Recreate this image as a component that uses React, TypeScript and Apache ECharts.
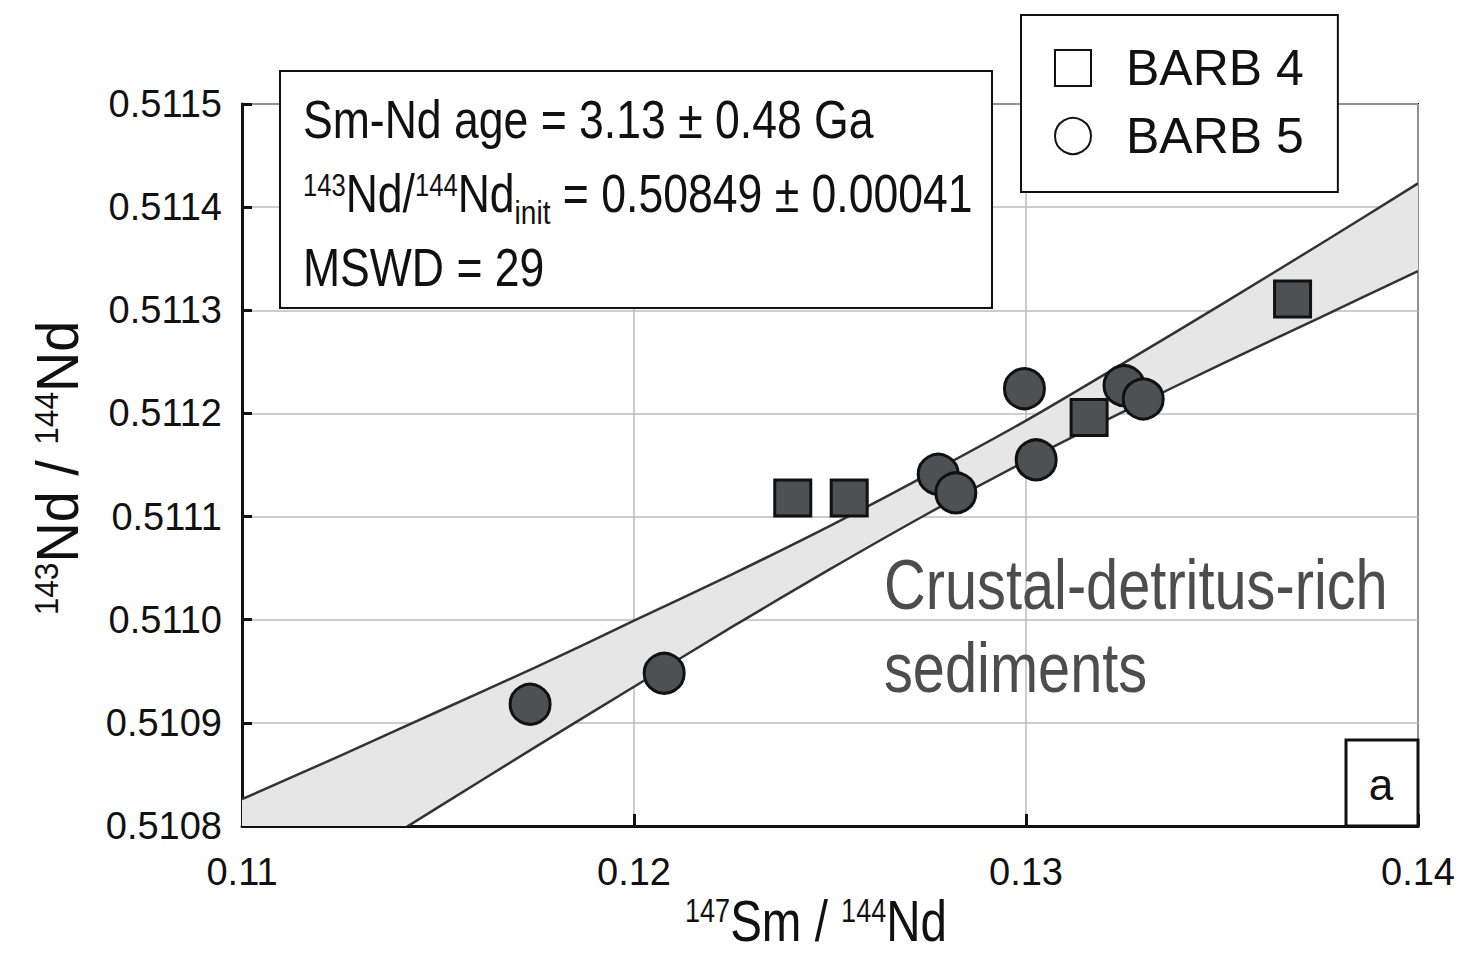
import React, { useEffect, useRef } from "react";
import * as echarts from "echarts";

// ---- data ----
const barb4X = [0.12405, 0.12549, 0.13161, 0.1368];
const barb4Y = [0.511118, 0.511118, 0.511196, 0.511311];
const barb5X = [0.11735, 0.12077, 0.12776, 0.12821, 0.12996, 0.13026, 0.1325, 0.13299];
const barb5Y = [0.510918, 0.510948, 0.511141, 0.511123, 0.511224, 0.511155, 0.511227, 0.511214];

// isochron error envelope (upper / lower bounds)
const envX = [0.11, 0.1125, 0.115, 0.1175, 0.12, 0.1225, 0.125, 0.1275, 0.13, 0.1325, 0.135, 0.1375, 0.14];
const envUpper = [0.510826, 0.510868, 0.510911, 0.510954, 0.510999, 0.511044, 0.511091, 0.511141, 0.511193, 0.511249, 0.511306, 0.511364, 0.511423];
const envLower = [0.5107, 0.510759, 0.510818, 0.510877, 0.510935, 0.510993, 0.511049, 0.511103, 0.511154, 0.511202, 0.511248, 0.511293, 0.511338];

const xMin = 0.11, xMax = 0.14, xStep = 0.01;
const yMin = 0.5108, yMax = 0.5115, yStep = 0.0001;

const seriesNames = ["BARB 4", "BARB 5"];
const xAxisTitle = "{sup|147}Sm / {sup|144}Nd";
const yAxisTitle = "{sup|143}Nd / {sup|144}Nd";
const infoLines = [
  "Sm-Nd age = 3.13 ± 0.48 Ga",
  "{sup|143}Nd/{sup|144}Nd{sub|init} = 0.50849 ± 0.00041",
  "MSWD = 29",
];
const regionLines = ["Crustal-detritus-rich", "sediments"];
const panelLabel = "a";

const FONT = "'Liberation Sans', Arial, sans-serif";
const INK = "#111111";
const MARK = "#4f5052";
const SQUEEZE = 0.825;

export default function App() {
  const ref = useRef<HTMLDivElement>(null);
  useEffect(() => {
    if (!ref.current) return;
    const chart = echarts.init(ref.current, null, { renderer: "svg" });
    const titleRich = {
      sup: { fontSize: 33, fontFamily: FONT, fill: INK, padding: [0, 0, 20, 0], lineHeight: 46 },
    };
    const option: any = {
      animation: false,
      backgroundColor: "#ffffff",
      grid: {
        left: 242, right: 43, top: 104, bottom: 129,
        outerBoundsMode: "none", containLabel: false,
        show: true, borderColor: INK, borderWidth: 2, backgroundColor: "transparent",
      },
      legend: {
        orient: "vertical", left: 1021, top: 15,
        backgroundColor: "#ffffff", borderColor: INK, borderWidth: 2,
        padding: [22, 34, 25, 33], itemGap: 6, itemWidth: 36, itemHeight: 36,
        textStyle: { fontSize: 50, fontFamily: FONT, color: INK, lineHeight: 62, padding: [0, 0, 0, 30] },
        data: [
          { name: seriesNames[0], icon: "rect", itemStyle: { color: "#ffffff", borderColor: INK, borderWidth: 2 } },
          { name: seriesNames[1], icon: "circle", itemStyle: { color: "#ffffff", borderColor: INK, borderWidth: 2 } },
        ],
        z: 20,
      },
      xAxis: {
        type: "value", min: xMin, max: xMax, interval: xStep,
        axisLine: { show: true, lineStyle: { color: INK, width: 3 } },
        axisTick: { show: true, inside: true, length: 12, lineStyle: { color: INK, width: 3 } },
        splitLine: { show: true, lineStyle: { color: "#bdbdbd", width: 1.5 } },
        axisLabel: {
          fontSize: 38, fontFamily: FONT, color: INK, margin: 27,
          formatter: (v: number) => v.toFixed(2),
        },
      },
      yAxis: {
        type: "value", min: yMin, max: yMax, interval: yStep,
        axisLine: { show: true, lineStyle: { color: INK, width: 3 } },
        axisTick: { show: true, inside: true, length: 10, lineStyle: { color: INK, width: 3 } },
        splitLine: { show: true, lineStyle: { color: "#bdbdbd", width: 1.5 } },
        axisLabel: {
          fontSize: 38, fontFamily: FONT, color: INK, margin: 20,
          formatter: (v: number) => v.toFixed(4),
        },
      },
      series: [
        {
          type: "custom", name: "envelope", silent: true, clip: true, z: 1,
          data: [[envX[0], envUpper[0]]],
          renderItem: (params: any, api: any) => {
            const up = envX.map((x, i) => api.coord([x, envUpper[i]]));
            const lo = envX.map((x, i) => api.coord([x, envLower[i]]));
            const cs = params.coordSys;
            return {
              type: "group",
              clipPath: { type: "rect", shape: { x: cs.x, y: cs.y, width: cs.width, height: cs.height } },
              children: [
                { type: "polygon", shape: { points: up.concat(lo.slice().reverse()) }, style: { fill: "#e5e6e5", stroke: "none" } },
                { type: "polyline", shape: { points: up, smooth: 0.3 }, style: { fill: "none", stroke: "#333333", lineWidth: 2.5 } },
                { type: "polyline", shape: { points: lo, smooth: 0.3 }, style: { fill: "none", stroke: "#333333", lineWidth: 2.5 } },
              ],
            };
          },
        },
        {
          type: "scatter", name: seriesNames[0], symbol: "rect", symbolSize: 36, z: 5,
          data: barb4X.map((x, i) => [x, barb4Y[i]]),
          itemStyle: { color: MARK, borderColor: INK, borderWidth: 3, opacity: 1 },
        },
        {
          type: "scatter", name: seriesNames[1], symbol: "circle", symbolSize: 40, z: 5,
          data: barb5X.map((x, i) => [x, barb5Y[i]]),
          itemStyle: { color: MARK, borderColor: INK, borderWidth: 3, opacity: 1 },
        },
      ],
      graphic: [
        // axis titles
        {
          type: "text", z: 10, x: 816, y: 921, scaleX: 0.82,
          style: {
            text: xAxisTitle, fontSize: 58, fontFamily: FONT, fill: INK, lineHeight: 46,
            align: "center", verticalAlign: "middle", rich: titleRich,
          },
        },
        {
          type: "text", z: 10, x: 57, y: 468, rotation: Math.PI / 2, scaleX: 0.93,
          style: {
            text: yAxisTitle, fontSize: 60, fontFamily: FONT, fill: INK, lineHeight: 46,
            align: "center", verticalAlign: "middle",
            rich: { sup: { fontSize: 34, fontFamily: FONT, fill: INK, padding: [0, 0, 21, 0], lineHeight: 46 } },
          },
        },
        // statistics box
        {
          type: "rect", z: 30, shape: { x: 280, y: 71, width: 712, height: 237 },
          style: { fill: "#ffffff", stroke: INK, lineWidth: 2 },
        },
        {
          type: "text", z: 31, x: 303, y: 82, scaleX: SQUEEZE,
          style: {
            text: infoLines.join("\n"),
            fontSize: 54, fontFamily: FONT, fill: INK, lineHeight: 74,
            verticalAlign: "top", align: "left",
            rich: {
              sup: { fontSize: 31, fontFamily: FONT, fill: INK, padding: [0, 0, 16, 0] },
              sub: { fontSize: 34, fontFamily: FONT, fill: INK, verticalAlign: "bottom" },
            },
          },
        },
        // region label
        {
          type: "text", z: 10, x: 884, y: 544, scaleX: SQUEEZE,
          style: {
            text: regionLines.join("\n"),
            fontSize: 70, fontFamily: FONT, fill: "#4d4d4f", lineHeight: 83,
            verticalAlign: "top", align: "left",
          },
        },
        // panel label
        {
          type: "rect", z: 30, shape: { x: 1346, y: 740, width: 72, height: 86 },
          style: { fill: "#ffffff", stroke: INK, lineWidth: 3 },
        },
        {
          type: "text", z: 31, x: 1381, y: 784,
          style: { text: panelLabel, fontSize: 44, fontFamily: FONT, fill: INK, align: "center", verticalAlign: "middle" },
        },
      ],
    };
    chart.setOption(option);
    return () => chart.dispose();
  }, []);
  return (
    <div
      ref={ref}
      style={{ position: "fixed", left: 0, top: 0, width: 1461, height: 955, background: "#fff" }}
    />
  );
}
